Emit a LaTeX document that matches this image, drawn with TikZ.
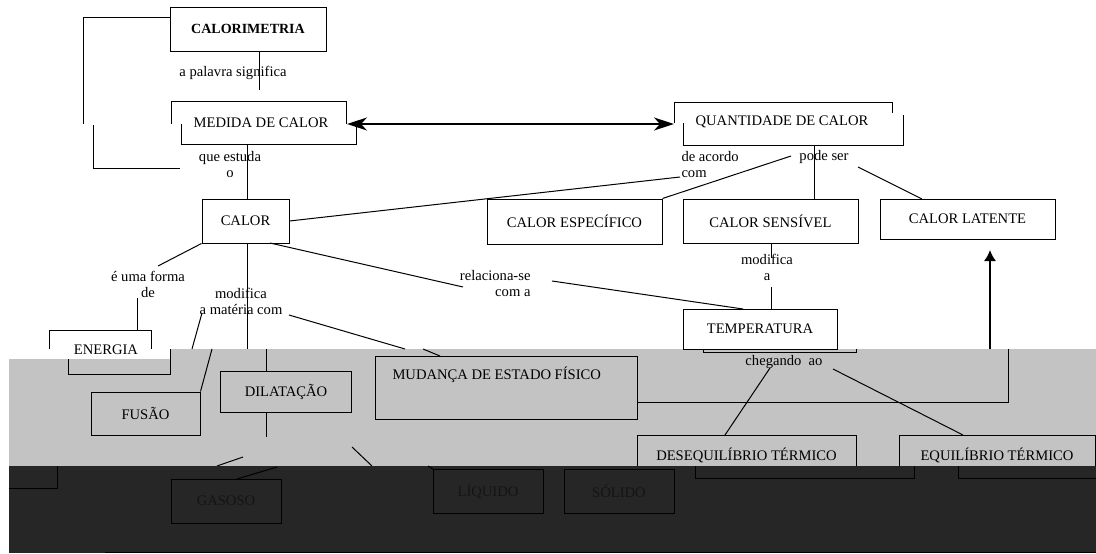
\documentclass[tikz,border=0pt]{standalone}
\usepackage{fontspec}
\setmainfont{Liberation Serif}
\usetikzlibrary{arrows.meta}
\definecolor{faixa}{HTML}{C3C3C3}
\definecolor{escuro}{HTML}{262626}
\definecolor{apagado}{HTML}{141414}

\begin{document}
\begin{tikzpicture}[x=1pt,y=-1pt,line width=1pt,
  conceito/.style={draw,inner sep=0pt,font=\fontsize{14.6}{16.5}\selectfont},
  ligacao/.style={inner sep=0pt,font=\fontsize{14.6}{16}\selectfont,align=center},
  ponta/.tip={Stealth[length=20pt,width=13pt,inset=6pt]}]

\useasboundingbox (0,0) rectangle (1096,554);

\fill[faixa] (9,349) rectangle (1096,466);
\fill[white] (9,349) rectangle (170,359);

\node[conceito,minimum width=156,minimum height=44,font=\fontsize{14}{16}\selectfont\bfseries] (calorimetria) at (248,29) {CALORIMETRIA};

\node[ligacao] (medida) at (261,123) {MEDIDA DE CALOR};
\draw (171,124) |- (346,101) -- (346,124);
\draw (181,124) |- (356,144) -- (356,124);
\coordinate (medida-e) at (347,124);
\coordinate (medida-s) at (247,144);

\node[ligacao] (quant) at (782,122) {QUANTIDADE DE CALOR};
\draw (674,123) |- (892,102) -- (892,113);
\draw (683,123) |- (903,145) -- (903,115);
\coordinate (quant-w) at (674,124);
\coordinate (quant-s) at (814,145);

\node[ligacao] (palavra) at (233,73) {a palavra significa};
\node[ligacao] (estuda) at (230,165) {que estuda\\o};
\node[ligacao,align=left,anchor=west] (acordo) at (681,165) {de acordo\\com};
\node[ligacao] (podeser) at (824,157) {pode ser};

\node[conceito,minimum width=87,minimum height=44] (calor) at (245.5,221) {CALOR};
\node[conceito,minimum width=175,minimum height=45] (especifico) at (574.5,221.5) {CALOR ESPECÍFICO};
\node[conceito,minimum width=175,minimum height=44] (sensivel) at (770.5,221) {CALOR SENSÍVEL};
\node[conceito,minimum width=175,minimum height=40] (latente) at (967.5,219) {CALOR LATENTE};

\node[ligacao] (forma) at (148,284.5) {é uma forma\\de};
\node[ligacao] (materia) at (241,301) {modifica\\a matéria com};
\node[ligacao,align=right,anchor=east] (relaciona) at (531,284) {relaciona-se\\com a};
\node[ligacao] (modifica) at (767,267) {modifica\\a};

\node[conceito,minimum width=154,minimum height=40] (temperatura) at (760,329) {TEMPERATURA};
\draw (703,349) |- (856,352) -- (856,349);

\node[ligacao] (energia) at (106,350) {ENERGIA};
\draw (49,349) |- (151,330) -- (151,349);
\draw (68,359) |- (170,374) -- (170,349);

\node[conceito,minimum width=109,minimum height=43] (fusao) at (145.5,413.5) {FUSÃO};
\node[conceito,minimum width=131,minimum height=41] (dilatacao) at (286,391.5) {DILATAÇÃO};
\node[conceito,minimum width=262,minimum height=63] (mudanca) at (506,387.5) {};
\node[ligacao,anchor=west] (mudancatxt) at (392,375) {MUDANÇA DE ESTADO FÍSICO};
\node[ligacao] (chegando) at (784,362) {chegando\ \ ao};
\node[conceito,minimum width=219,minimum height=40] (deseq) at (746.5,455) {DESEQUILÍBRIO TÉRMICO};
\node[conceito,minimum width=196,minimum height=40] (equil) at (997,455) {EQUILÍBRIO TÉRMICO};

\coordinate (b1) at (83,17);
\coordinate (b2) at (93,168);
\draw (calorimetria.west |- b1) -- (b1) -- (83,124);
\draw (93,125) -- (b2) -- (180,168);

\draw (calorimetria.south -| 259,0) -- (259,90);
\draw[line width=1.6pt,ponta-ponta] (medida-e) -- (quant-w);
\draw (medida-s) -- (calor.north -| medida-s);
\draw (calor.east) -- (680,177);
\draw (quant-s) -- (sensivel.north -| quant-s);
\draw (791,156) -- (especifico.north east);
\draw (858,167) -- (922,199);

\draw (calor.south west) -- (158,266);
\draw (137,298) -- (137,330);
\draw (calor.south -| medida-s) -- (247,349);
\draw (266,349) -- (dilatacao.north -| 266,0);
\draw (dilatacao.south -| 266,0) -- (266,437);
\draw (202,313) -- (192,349);
\draw (212,349) -- (fusao.north east);
\draw (289,315) -- (405,349);
\draw (423,349) -- (440,356);
\draw (270,243) -- (463,287);
\draw (552,281) -- (743,309);
\draw (sensivel.south -| 771,0) -- (771,258);
\draw (771,287) -- (temperatura.north -| 771,0);
\draw[line width=1.6pt,-{Latex[length=11pt,width=12pt]}] (990,349) -- (990,250);
\draw (mudanca.east |- 0,402) -- (1008,402) -- (1008,349);
\draw (770,368) -- (725,435);
\draw (833,369) -- (963,435);
\draw (217,466) -- (243,457);
\draw (352,447) -- (372,466);

\fill[escuro] (9,466) rectangle (1096,553);
\draw (105,552) -- (1096,552);
\draw (9,488) -| (57,466);
\draw (695,466) |- (914,478) -- (914,466);
\draw (958,466) |- (1096,478);
\draw (237,479) -- (277,467);
\draw (428,466) -- (433,469);

\node[conceito,text=apagado,minimum width=110,minimum height=44] (gasoso) at (226,501) {GASOSO};
\node[conceito,text=apagado,minimum width=110,minimum height=44] (liquido) at (488,491) {LÍQUIDO};
\node[conceito,text=apagado,minimum width=110,minimum height=44] (solido) at (619,491) {SÓLIDO};

\end{tikzpicture}
\end{document}
